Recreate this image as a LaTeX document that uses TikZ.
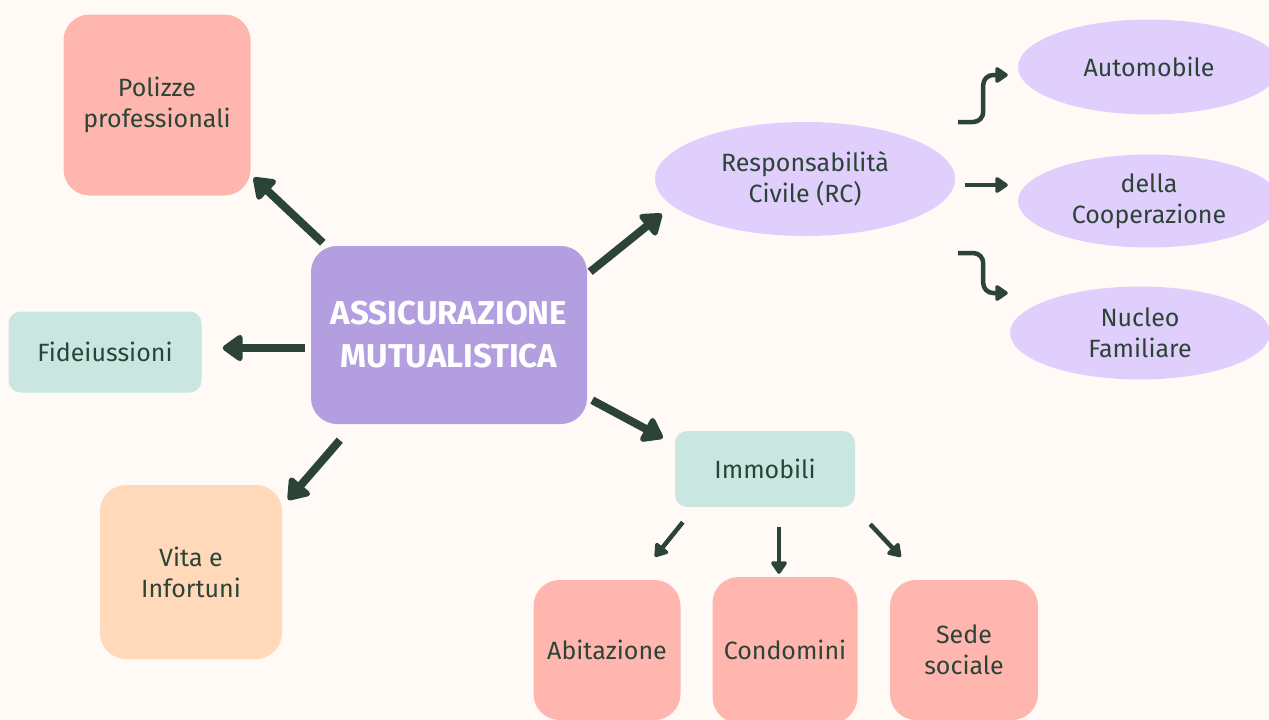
\documentclass[tikz,border=0pt]{standalone}
\usepackage{fontspec}
\setmainfont{Fira Sans}
\usetikzlibrary{arrows.meta,shapes.geometric}

\definecolor{bgcol}{HTML}{FFFAF6}
\definecolor{ink}{HTML}{2C4437}
\definecolor{mainpurple}{HTML}{B39FDF}
\definecolor{lilac}{HTML}{E0CFFC}
\definecolor{rose}{HTML}{FFB6AE}
\definecolor{mint}{HTML}{C9E7E0}
\definecolor{peach}{HTML}{FFD9BA}

\tikzset{
  box/.style={rectangle, rounded corners=26pt, align=center, text=ink,
    font=\fontsize{25}{31}\selectfont},
  blob/.style={ellipse, fill=lilac, align=center, text=ink, inner sep=0pt,
    font=\fontsize{25}{31}\selectfont},
  bigarr/.style={draw=ink, line width=8pt, -{Triangle[length=22pt,width=30pt,round]}},
  smallarr/.style={draw=ink, line width=4.5pt, -{Triangle[length=14pt,width=18pt,round]}},
}

\begin{document}
\begin{tikzpicture}[x=1pt,y=-1pt]
    \useasboundingbox (0,0) rectangle (1269,720);
    \clip (0,0) rectangle (1269,720);
    \fill [bgcol] (0,0) rectangle (1269,720);
    % centre
    \node [box, fill=mainpurple, text=white, minimum width=276pt, minimum height=178pt,
      font=\fontsize{33}{43}\selectfont\bfseries] (ctr) at (449,335)
      {ASSICURAZIONE\\MUTUALISTICA};
    % left side
    \node [box, fill=rose, minimum width=187pt, minimum height=181pt] (pol) at (157,105)
      {Polizze\\professionali};
    \node [box, fill=mint, rounded corners=12pt, minimum width=193pt, minimum height=81pt]
      (fid) at (105,352) {Fideiussioni};
    \node [box, fill=peach, minimum width=182pt, minimum height=174pt] (vita) at (191,572)
      {Vita e\\Infortuni};
    % responsabilita civile
    \node [blob, minimum width=300pt, minimum height=114pt] (rc) at (805,179)
      {Responsabilità\\Civile (RC)};
    \node [blob, minimum width=262pt, minimum height=95pt] (auto) at (1149,67) {Automobile};
    \node [blob, minimum width=262pt, minimum height=93pt] (coop) at (1149,201)
      {della\\Cooperazione};
    \node [blob, minimum width=260pt, minimum height=93pt] (nuc) at (1140,333)
      {Nucleo\\Familiare};
    % immobili
    \node [box, fill=mint, rounded corners=12pt, minimum width=180pt, minimum height=76pt]
      (imm) at (765,469) {Immobili};
    \node [box, fill=rose, minimum width=147pt, minimum height=140pt] (abit) at (607,650)
      {Abitazione};
    \node [box, fill=rose, minimum width=145pt, minimum height=146pt] (cond) at (785,650)
      {Condomini};
    \node [box, fill=rose, minimum width=148pt, minimum height=140pt] (sede) at (964,650)
      {Sede\\sociale};
    % arrows from the centre
    \draw [bigarr] ([shift={(12,-3)}]ctr.north west) -- ([shift={(3,-18)}]pol.south east);
    \draw [bigarr] ([shift={(-6,13)}]ctr.west) -- ([shift={(21,-4)}]fid.east);
    \draw [bigarr] ([shift={(29,16)}]ctr.south west) -- ([shift={(6,15)}]vita.north east);
    \draw [bigarr] ([shift={(3,26)}]ctr.north east) -- ([shift={(7,35)}]rc.west);
    \draw [bigarr] ([shift={(5,-24)}]ctr.south east) -- ([shift={(-12,-31)}]imm.west);
    % arrows from RC
    \draw [smallarr, rounded corners=10pt] ([shift={(3,-57)}]rc.east) -- ++(25,0)
      |- ([shift={(-10,8)}]auto.west);
    \draw [smallarr] ([shift={(10,6)}]rc.east) -- ([shift={(-10,-16)}]coop.west);
    \draw [smallarr, rounded corners=10pt] ([shift={(3,74)}]rc.east) -- ++(25,0)
      |- ([shift={(-2,-40)}]nuc.west);
    % arrows from immobili
    \draw [smallarr] ([shift={(8,15)}]imm.south west) -- ([shift={(48,-23)}]abit.north);
    \draw [smallarr] ([shift={(14,20)}]imm.south) -- ([shift={(-6,-3)}]cond.north);
    \draw [smallarr] ([shift={(15,17)}]imm.south east) -- ([shift={(11,-23)}]sede.north west);
\end{tikzpicture}
\end{document}
